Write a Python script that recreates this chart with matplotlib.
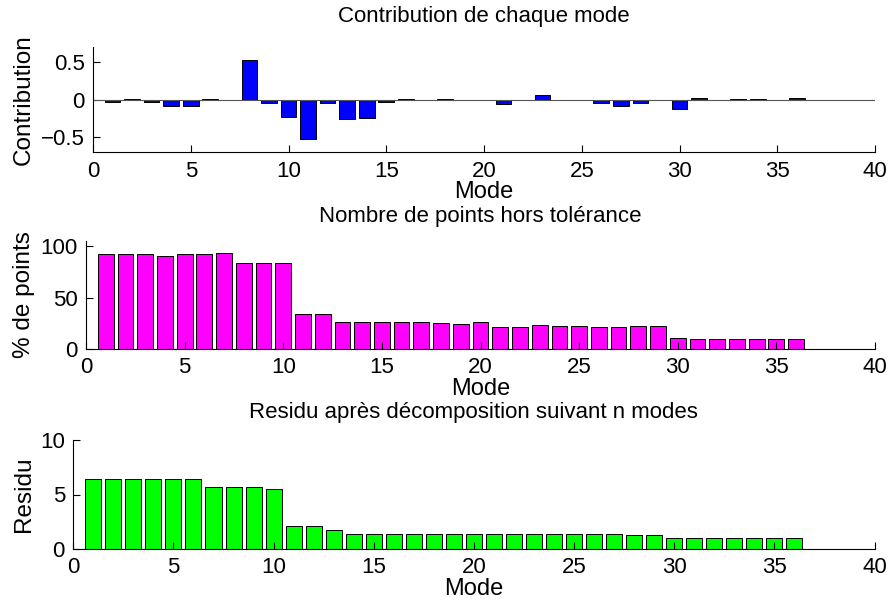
import numpy as np
import matplotlib
matplotlib.use("Agg")
import matplotlib.pyplot as plt

plt.rcParams['font.family'] = ['Liberation Sans', 'DejaVu Sans']

#---------------------------------------------------------------------------
# data
modes = np.arange(1, 37)

contribution = [-0.035, 0.005, -0.035, -0.083, -0.083, 0.005, -0.005, 0.52,
                -0.048, -0.235, -0.526, -0.052, -0.26, -0.243, -0.03, 0.005,
                -0.003, 0.005, -0.003, -0.005, -0.057, -0.005, 0.065, -0.003,
                -0.003, -0.04, -0.083, -0.04, -0.003, -0.126, 0.02, -0.005,
                0.005, 0.003, -0.01, 0.02]

pct_points = [91.9, 91.9, 91.9, 90.6, 92.5, 92.5, 92.9, 83.5, 83.2, 83.5,
              33.7, 33.7, 26.5, 25.9, 25.9, 25.9, 26.5, 25.2, 24.6, 25.9,
              21.0, 21.0, 23.0, 22.7, 22.7, 21.7, 21.4, 22.7, 22.7, 11.0,
              10.0, 9.4, 9.4, 9.7, 9.4, 9.4]

residu = [6.46, 6.46, 6.46, 6.4, 6.4, 6.4, 5.73, 5.67, 5.67, 5.55,
          2.07, 2.07, 1.74, 1.37, 1.37, 1.37, 1.37, 1.37, 1.37, 1.37,
          1.36, 1.36, 1.35, 1.35, 1.35, 1.35, 1.35, 1.27, 1.27, 1.04,
          1.04, 1.04, 1.04, 1.04, 1.04, 1.04]

xticks = [0, 5, 10, 15, 20, 25, 30, 35, 40]

W, H = 890, 606
#---------------------------------------------------------------------------
def Make_Axes(fig, left, top, right, bottom):
    # pixel box -> figure fraction
    return fig.add_axes([left / W, 1 - bottom / H, (right - left) / W, (bottom - top) / H])

def Style(fig, ax, ylim, yticks, yticklabels, ylabel, title, title_pad):
    ax.set_xlim(0, 40)
    ax.set_ylim(*ylim)
    ax.set_xticks(xticks)
    ax.set_yticks(yticks)
    ax.set_yticklabels(yticklabels)
    ax.spines['top'].set_visible(False)
    ax.spines['right'].set_visible(False)
    for s in ('left', 'bottom'):
        ax.spines[s].set_linewidth(0.8)
    ax.tick_params(direction='in', length=5, width=0.8, labelsize=16, pad=6)
    ax.set_xlabel("Mode", fontsize=17, labelpad=-0.5)
    ax.set_ylabel(ylabel, fontsize=17.5)
    # all y labels line up at the same x in the figure (anchor = right side of rotated text)
    pos = ax.get_position()
    ax.yaxis.set_label_coords(35 / W, pos.y0 + pos.height / 2, transform=fig.transFigure)
    ax.set_title(title, fontsize=16, pad=title_pad)

fig = plt.figure(figsize=(8.9, 6.06), dpi=100)

# Contribution de chaque mode
ax1 = Make_Axes(fig, 93, 46.7, 875, 152.3)
ax1.bar(modes, contribution, width=0.8, color=(0, 0, 1), edgecolor='k', linewidth=0.7)
ax1.axhline(0, color='#555555', linewidth=0.8)
Style(fig, ax1, (-0.7, 0.7), [-0.5, 0, 0.5], ['\u22120.5', '0', '0.5'],
      "Contribution", "Contribution de chaque mode", 18)

# Nombre de points hors tolerance
ax2 = Make_Axes(fig, 86, 241, 875, 349)
ax2.bar(modes, pct_points, width=0.8, color=(1, 0, 1), edgecolor='k', linewidth=0.7)
Style(fig, ax2, (0, 105), [0, 50, 100], ['0', '50', '100'],
      "% de points", "Nombre de points hors tolérance", 14)

# Residu
ax3 = Make_Axes(fig, 73.3, 440, 874.5, 549)
ax3.bar(modes, residu, width=0.8, color=(0, 1, 0), edgecolor='k', linewidth=0.7)
Style(fig, ax3, (0, 10), [0, 5, 10], ['0', '5', '10'],
      "Residu", "Residu après décomposition suivant n modes", 15.6)

fig.savefig("out.png", dpi=100)
